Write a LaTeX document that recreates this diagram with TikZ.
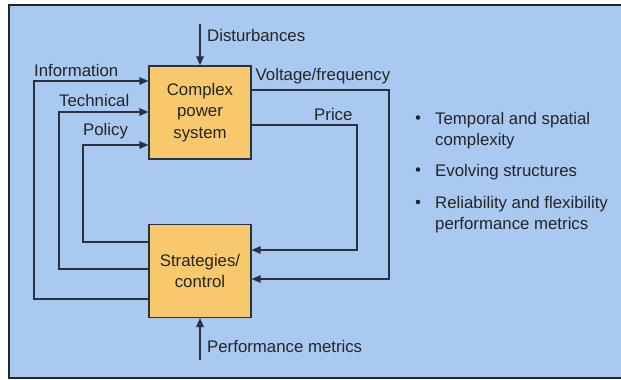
\documentclass[tikz,border=0pt]{standalone}
\usepackage{fontspec}
\setmainfont{Liberation Sans}
\usetikzlibrary{arrows.meta}
\definecolor{bgblue}{HTML}{A9C9F0}
\definecolor{boxfill}{HTML}{F8C86C}
\definecolor{linec}{HTML}{2A3240}
\definecolor{txt}{HTML}{252525}
\tikzset{
  lbl/.style={inner sep=0pt, anchor=base west, text=txt, font=\fontsize{16.8}{21}\selectfont},
  blk/.style={draw=linec, line width=1.2pt, fill=boxfill, minimum width=102pt, minimum height=93pt, inner sep=0pt, align=center, text=txt, font=\fontsize{16.8}{21.5}\selectfont},
  wire/.style={draw=linec, line width=1.2pt},
  arr/.style={wire, -{Triangle[length=9pt,width=7.5pt]}}
}
\begin{document}
\begin{tikzpicture}[x=1pt,y=-1pt]
\useasboundingbox (0,0) rectangle (621,380);
\fill[white] (0,0) rectangle (621,380);
\draw[fill=bgblue, draw=black!85, line width=1.6pt] (9,5) rectangle (630,378);
% blocks
\node[blk] (cps) at (200,112.5) {Complex\\power\\system};
\node[blk] (sc) at (200,271) {Strategies/\\control};
% disturbances / performance
\coordinate (dtop) at (200,24);
\coordinate (pbot) at (200,360);
\draw[arr] (dtop) -- (cps.north);
\draw[arr] (pbot) -- (sc.south);
\node[lbl] (dist) at (207,41.5) {Disturbances};
\node[lbl] (perf) at (207,352.5) {Performance metrics};
% left feedback loops
\coordinate (ia) at (34,299); \coordinate (ib) at (34,81);
\coordinate (ta) at (59,269); \coordinate (tb) at (59,112);
\coordinate (pa) at (83,242); \coordinate (pb) at (83,145);
\draw[arr] (sc.west |- ia) -- (ia) -- (ib) -- (cps.west |- ib);
\draw[arr] (sc.west |- ta) -- (ta) -- (tb) -- (cps.west |- tb);
\draw[arr] (sc.west |- pa) -- (pa) -- (pb) -- (cps.west |- pb);
\node[lbl] (info) at (34,76.5) {Information};
\node[lbl] (tech) at (59,106.5) {Technical};
\node[lbl] (pol) at (83,135.5) {Policy};
% right feedback loops
\coordinate (va) at (389,90); \coordinate (vb) at (389,279);
\coordinate (ra) at (357,125); \coordinate (rb) at (357,250);
\draw[arr] (cps.east |- va) -- (va) -- (vb) -- (sc.east |- vb);
\draw[arr] (cps.east |- ra) -- (ra) -- (rb) -- (sc.east |- rb);
\node[lbl] (volt) at (255.5,80.5) {Voltage/frequency};
\node[lbl] (price) at (314,120.5) {Price};
% bullets
\node[lbl] (b1) at (435,124) {Temporal and spatial};
\node[lbl] (b1b) at (435,145) {complexity};
\node[lbl] (b2) at (435,176) {Evolving structures};
\node[lbl] (b3) at (435,208.5) {Reliability and flexibility};
\node[lbl] (b3b) at (435,229.5) {performance metrics};
\fill[txt] (418,117.5) circle (2.3pt);
\fill[txt] (418,169.5) circle (2.3pt);
\fill[txt] (418,202) circle (2.3pt);
\end{tikzpicture}
\end{document}
